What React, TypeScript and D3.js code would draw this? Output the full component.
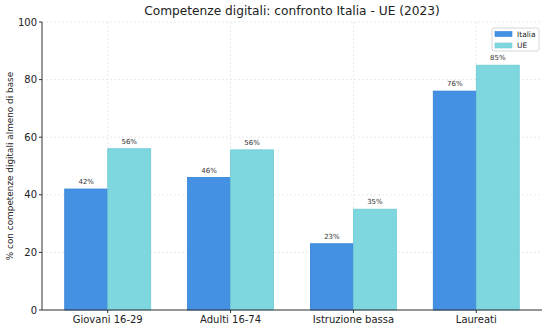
import React from 'react';
import * as d3 from 'd3';

const categories = ['Giovani 16-29', 'Adulti 16-74', 'Istruzione bassa', 'Laureati'];
const italia = [42, 46, 23, 76];
const ue = [56, 55.6, 35, 85];
const yTicks = [0, 20, 40, 60, 80, 100];
const seriesNames = ['Italia', 'UE'];
const colors = ['#4491e3', '#7ed7df'];
const edges = ['#2f7fd6', '#6fcbd6'];

const W = 550;
const H = 330;
const margin = { top: 22, right: 8, bottom: 20, left: 42 };

export default function App() {
  const plotR = W - margin.right;
  const plotB = H - margin.bottom;

  // matplotlib style: bars at x-0.35..x and x..x+0.35, 5% margins
  const x = d3.scaleLinear().domain([-0.535, categories.length - 1 + 0.535]).range([margin.left, plotR]);
  const y = d3.scaleLinear().domain([0, 100]).range([plotB, margin.top]);
  const bw = 0.35;
  const font = 'DejaVu Sans, sans-serif';

  const series = [italia, ue];

  return (
    <svg width={W} height={H} style={{ position: 'absolute', left: 0, top: 0, background: '#fff' }} fontFamily={font}>
      {/* grid */}
      {yTicks.map(t => (
        <line key={'gy' + t} x1={margin.left} x2={plotR} y1={y(t)} y2={y(t)} stroke="#e3e3e3" strokeWidth={0.8} strokeDasharray="2,2" />
      ))}
      {categories.map((c, i) => (
        <line key={'gx' + c} x1={x(i)} x2={x(i)} y1={margin.top} y2={plotB} stroke="#e3e3e3" strokeWidth={0.8} strokeDasharray="2,2" />
      ))}

      {/* bars */}
      {series.map((vals, s) =>
        vals.map((v, i) => {
          const x0 = x(i - bw + s * bw);
          const x1 = x(i + s * bw);
          return (
            <g key={`b${s}-${i}`}>
              <rect x={x0} y={y(v)} width={x1 - x0} height={plotB - y(v)} fill={colors[s]} stroke={edges[s]} strokeWidth={0.8} />
              <text x={(x0 + x1) / 2} y={y(v) - 5} textAnchor="middle" fontSize={7} fill="#333">
                {Math.round(v)}%
              </text>
            </g>
          );
        })
      )}

      {/* axes */}
      <line x1={margin.left} x2={margin.left} y1={margin.top} y2={plotB} stroke="#333" strokeWidth={1} />
      <line x1={margin.left} x2={plotR} y1={plotB} y2={plotB} stroke="#333" strokeWidth={1} />
      {yTicks.map(t => (
        <g key={'ty' + t}>
          <line x1={margin.left - 3} x2={margin.left} y1={y(t)} y2={y(t)} stroke="#333" />
          <text x={margin.left - 5} y={y(t)} dy="0.35em" textAnchor="end" fontSize={10} fill="#222">{t}</text>
        </g>
      ))}
      {categories.map((c, i) => (
        <g key={'tx' + c}>
          <line x1={x(i)} x2={x(i)} y1={plotB} y2={plotB + 3} stroke="#333" />
          <text x={x(i)} y={plotB + 13} textAnchor="middle" fontSize={10} fill="#222">{c}</text>
        </g>
      ))}

      {/* title */}
      <text x={(margin.left + plotR) / 2} y={15} textAnchor="middle" fontSize={12.2} fill="#222">
        Competenze digitali: confronto Italia - UE (2023)
      </text>
      <text transform={`translate(13,${(margin.top + plotB) / 2}) rotate(-90)`} textAnchor="middle" fontSize={8.9} fill="#222">
        % con competenze digitali almeno di base
      </text>

      {/* legend */}
      <g transform="translate(492,28)">
        <rect x={0} y={0} width={47} height={23} rx={2} fill="#fff" stroke="#ccc" strokeWidth={0.8} fillOpacity={0.9} />
        {seriesNames.map((n, i) => (
          <g key={n} transform={`translate(3,${4 + i * 11.5})`}>
            <rect x={0} y={-0.5} width={17} height={5} fill={colors[i]} stroke={edges[i]} strokeWidth={0.6} />
            <text x={22} y={2} dy="0.35em" fontSize={7.5} fill="#222">{n}</text>
          </g>
        ))}
      </g>
    </svg>
  );
}
